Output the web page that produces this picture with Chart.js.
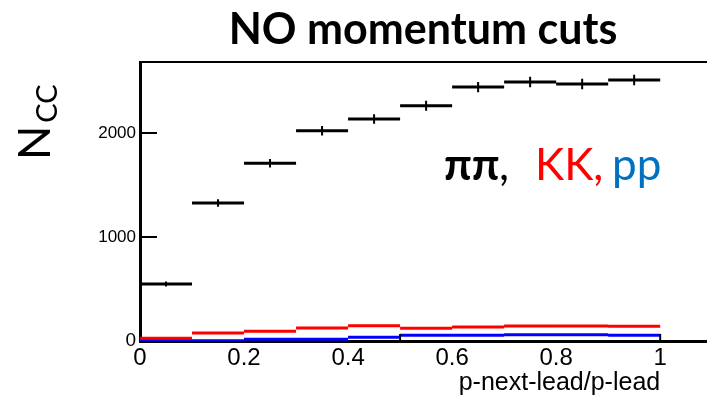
<!DOCTYPE html>
<html>
<head>
<meta charset="utf-8">
<script src="https://cdn.jsdelivr.net/npm/chart.js@4/dist/chart.umd.min.js"></script>
<style>
html,body{margin:0;padding:0;background:#fff;}
#wrap{position:relative;width:707px;height:403px;}
</style>
</head>
<body>
<div id="wrap"><canvas id="c" width="707" height="403"></canvas></div>
<script>
// ---- data ----
const binEdges = [0, 0.1, 0.2, 0.3, 0.4, 0.5, 0.6, 0.7, 0.8, 0.9, 1.0];
const pipiCounts = [548, 1327, 1710, 2022, 2135, 2262, 2442, 2490, 2471, 2510];
const pipiErrors = [23, 36, 41, 45, 46, 48, 49, 50, 50, 50];
const kkCounts = [26, 77, 93, 125, 147, 122, 135, 144, 144, 141];
const ppCounts = [5, 2, 16, 16, 36, 55, 55, 61, 61, 55];
const xTickLabels = [0, 0.2, 0.4, 0.6, 0.8, 1];
const xTickMarks = [0.5, 1];
const yTickLabels = [0, 1000, 2000];
const titleText = "NO momentum cuts";
const xTitle = "p-next-lead/p-lead";

function histSegments(counts) {
  const d = [];
  counts.forEach((v, i) => {
    d.push({x: binEdges[i], y: v});
    d.push({x: binEdges[i + 1], y: v});
    d.push({x: binEdges[i + 1], y: null});
  });
  return d;
}
function errorSegments(counts, errs) {
  const d = [];
  counts.forEach((v, i) => {
    const c = (binEdges[i] + binEdges[i + 1]) / 2;
    d.push({x: c, y: v - errs[i]});
    d.push({x: c, y: v + errs[i]});
    d.push({x: c, y: null});
  });
  return d;
}

const decor = {
  id: 'decor',
  afterDraw(chart) {
    const ctx = chart.ctx, a = chart.chartArea;
    const xs = chart.scales.x, ys = chart.scales.y;
    ctx.save();
    // top frame
    ctx.strokeStyle = '#000';
    ctx.lineWidth = 2;
    ctx.beginPath(); ctx.moveTo(a.left, a.top); ctx.lineTo(a.right, a.top); ctx.stroke();
    // inner ticks
    yTickLabels.forEach(v => {
      if (v === 0) return;
      const y = ys.getPixelForValue(v);
      ctx.beginPath(); ctx.moveTo(a.left, y); ctx.lineTo(a.left + 17, y); ctx.stroke();
    });
    xTickMarks.forEach(v => {
      const x = xs.getPixelForValue(v);
      ctx.beginPath(); ctx.moveTo(x, a.bottom); ctx.lineTo(x, a.bottom - 7); ctx.stroke();
    });
    // title
    ctx.fillStyle = '#000';
    ctx.font = 'bold 43px Lato';
    ctx.textAlign = 'center'; ctx.textBaseline = 'alphabetic';
    ctx.fillText(titleText, 423, 44);
    // x title
    ctx.font = '25px "Liberation Sans"';
    ctx.textAlign = 'right';
    ctx.fillText(xTitle, xs.getPixelForValue(1), 390);
    // y title N_CC rotated
    ctx.save();
    ctx.translate(50, 160);
    ctx.rotate(-Math.PI / 2);
    ctx.textAlign = 'left';
    ctx.font = '45px Lato';
    ctx.fillText('N', 0, 0);
    const nw = ctx.measureText('N').width;
    ctx.font = '29px Lato';
    ctx.fillText('CC', nw + 3, 7);
    ctx.restore();
    // legend text
    const by = 180;
    ctx.textAlign = 'left';
    ctx.font = 'bold 44px Lato'; ctx.fillStyle = '#000';
    ctx.fillText('ππ', 444, by);
    ctx.font = '44px Lato';
    ctx.fillText(',', 499, by);
    ctx.fillStyle = '#ff0000';
    ctx.fillText('KK,', 535, by);
    ctx.fillStyle = '#0070c0';
    ctx.fillText('pp', 612, by);
    ctx.restore();
  }
};

new Chart(document.getElementById('c'), {
  type: 'line',
  data: {
    datasets: [
      {label: 'pipi', data: histSegments(pipiCounts), borderColor: '#000', borderWidth: 3, pointRadius: 0, spanGaps: false},
      {label: 'pipiErr', data: errorSegments(pipiCounts, pipiErrors), borderColor: '#000', borderWidth: 2, pointRadius: 0, spanGaps: false},
      {label: 'KK', data: histSegments(kkCounts), borderColor: '#ff0000', borderWidth: 3, pointRadius: 0, spanGaps: false},
      {label: 'pp', data: histSegments(ppCounts), borderColor: '#0000ff', borderWidth: 3, pointRadius: 0, spanGaps: false}
    ]
  },
  options: {
    responsive: false,
    animation: false,
    events: [],
    layout: {padding: {top: 62, right: 0, left: 0, bottom: 0}},
    plugins: {legend: {display: false}, tooltip: {enabled: false}, title: {display: false}},
    scales: {
      x: {
        type: 'linear', min: 0, max: 1.09,
        afterBuildTicks: s => { s.ticks = xTickLabels.map(v => ({value: v})); },
        afterFit: s => { s.height = 62; },
        grid: {display: false, drawTicks: false},
        border: {display: true, color: '#000', width: 3},
        ticks: {color: '#000', font: {family: 'Liberation Sans', size: 24}, padding: 3, maxRotation: 0,
          callback: v => String(v)}
      },
      y: {
        type: 'linear', min: 0, max: 2683,
        afterBuildTicks: s => { s.ticks = yTickLabels.map(v => ({value: v})); },
        afterFit: s => { s.width = 140; },
        grid: {display: false, drawTicks: false},
        border: {display: true, color: '#000', width: 3},
        ticks: {color: '#000', padding: 4,
          font: c => (c.tick && c.tick.value === 0) ? {family: 'Liberation Sans', size: 19} : {family: 'Liberation Sans', size: 17},
          callback: v => String(v)}
      }
    }
  },
  plugins: [decor]
});
</script>
</body>
</html>
